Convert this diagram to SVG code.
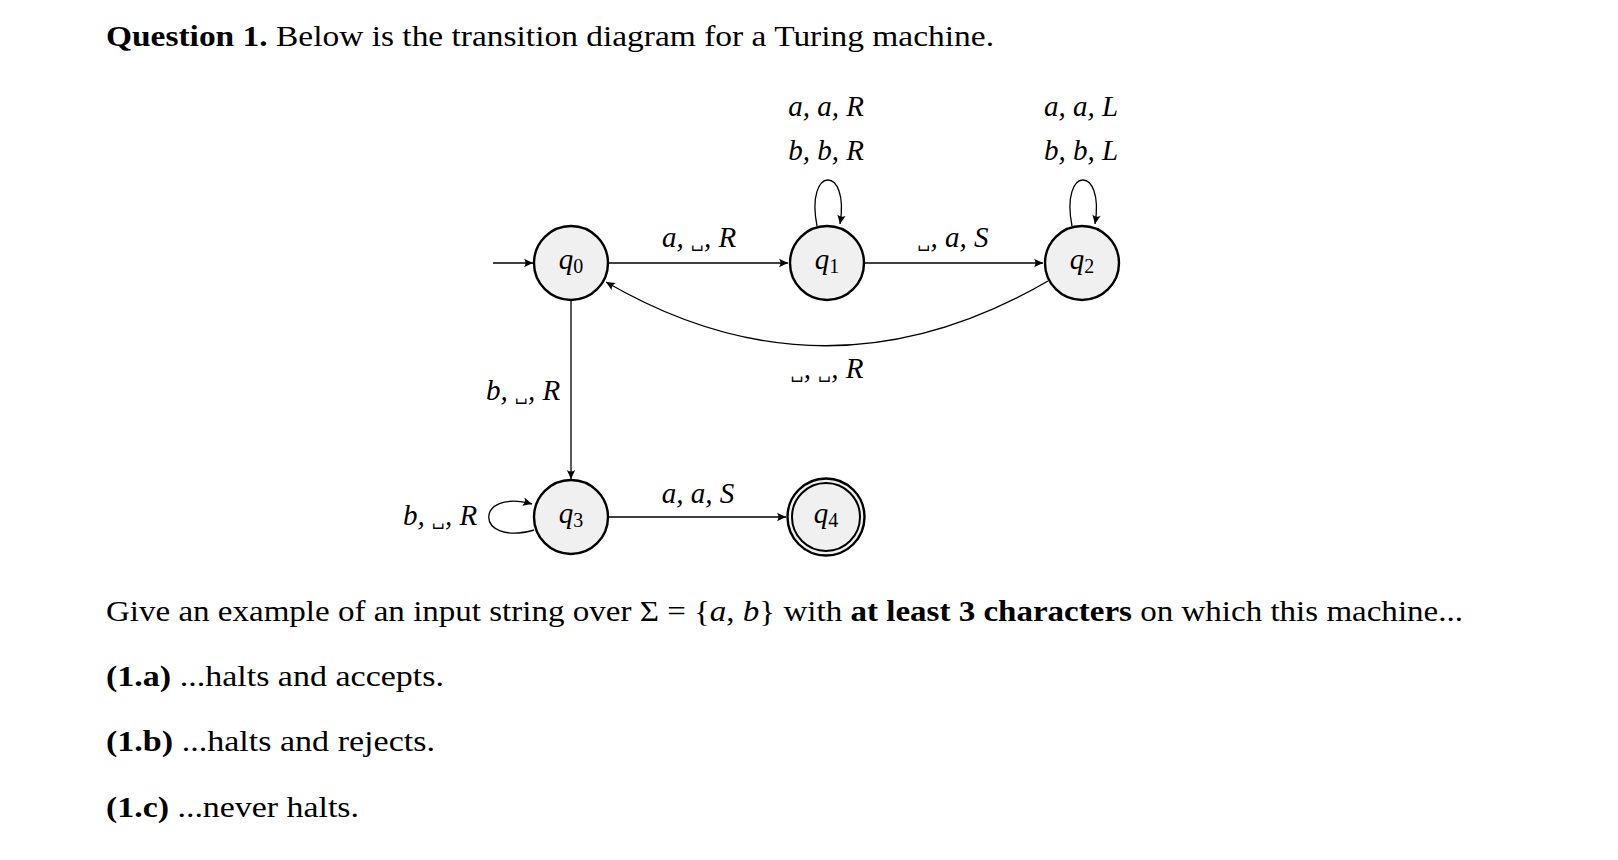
<svg xmlns="http://www.w3.org/2000/svg" width="1618" height="860" viewBox="0 0 1618 860">
<style>
  .txt { font-family: "Liberation Serif", "DejaVu Serif", serif; font-size: 29px; fill: #000; }
  .b { font-weight: bold; }
  .m { font-family: "Liberation Serif", "DejaVu Serif", serif; font-size: 29px; font-style: italic; fill: #000; text-anchor: middle; }
  .blank { font-family: "DejaVu Serif", serif; font-style: normal; font-size: 17px; }
  .node { fill: #f0f0f0; stroke: #000; stroke-width: 2.4; }
  .nl { font-family: "Liberation Serif", "DejaVu Serif", serif; font-size: 29px; font-style: italic; text-anchor: middle; fill: #000; }
  .sub { font-style: normal; font-size: 20px; }
  .edge { fill: none; stroke: #000; stroke-width: 1.3; marker-end: url(#arr); }
</style>
<defs>
  <marker id="arr" viewBox="-10 -5 12 10" refX="0" refY="0" markerWidth="12" markerHeight="10" markerUnits="userSpaceOnUse" orient="auto">
    <path d="M0,0 L-9,-4.2 Q-6,0 -9,4.2 Z" fill="#000"/>
  </marker>
</defs>
<rect width="1618" height="860" fill="#fff"/>

<text class="txt" x="106" y="46" textLength="888" lengthAdjust="spacingAndGlyphs"><tspan class="b">Question 1.</tspan> Below is the transition diagram for a Turing machine.</text>

<g id="connectors">
  <path class="edge" d="M493,263 L533,263"/>
  <path class="edge" d="M609,263 L788,263"/>
  <path class="edge" d="M865,263 L1043,263"/>
  <path class="edge" d="M571,300 L571,479"/>
  <path class="edge" d="M609,517 L786,517"/>
  <path class="edge" d="M1048,281 Q826,410 606,282"/>
  <path class="edge" d="M817,226 C805,165 850,165 840,224"/>
  <path class="edge" d="M1072,226 C1060,165 1105,165 1095,224"/>
  <path class="edge" d="M534,530 C474,547 474,488 532,504"/>
</g>

<g id="labels">
  <text class="m" x="826" y="116">a, a, R</text>
  <text class="m" x="826" y="160">b, b, R</text>
  <text class="m" x="1081" y="116">a, a, L</text>
  <text class="m" x="1081" y="160">b, b, L</text>
  <text class="m" x="699" y="247">a, <tspan class="blank">␣</tspan>, R</text>
  <text class="m" x="953" y="247"><tspan class="blank">␣</tspan>, a, S</text>
  <text class="m" x="827" y="378"><tspan class="blank">␣</tspan>, <tspan class="blank">␣</tspan>, R</text>
  <text class="m" x="523" y="400">b, <tspan class="blank">␣</tspan>, R</text>
  <text class="m" x="440" y="525">b, <tspan class="blank">␣</tspan>, R</text>
  <text class="m" x="698" y="503">a, a, S</text>
</g>

<g id="q0"><circle class="node" cx="571" cy="263" r="37"/><text class="nl" x="571" y="269">q<tspan class="sub" dy="4">0</tspan></text></g>
<g id="q1"><circle class="node" cx="827" cy="263" r="37"/><text class="nl" x="827" y="269">q<tspan class="sub" dy="4">1</tspan></text></g>
<g id="q2"><circle class="node" cx="1082" cy="263" r="37"/><text class="nl" x="1082" y="269">q<tspan class="sub" dy="4">2</tspan></text></g>
<g id="q3"><circle class="node" cx="571" cy="517" r="37"/><text class="nl" x="571" y="523">q<tspan class="sub" dy="4">3</tspan></text></g>
<g id="q4"><circle class="node" cx="826" cy="517" r="38.5"/><circle cx="826" cy="517" r="34" fill="none" stroke="#000" stroke-width="2"/><text class="nl" x="826" y="523">q<tspan class="sub" dy="4">4</tspan></text></g>

<text class="txt" x="106" y="621" textLength="1357" lengthAdjust="spacingAndGlyphs">Give an example of an input string over Σ = {<tspan font-style="italic">a</tspan>, <tspan font-style="italic">b</tspan>} with <tspan class="b">at least 3 characters</tspan> on which this machine...</text>
<text class="txt" x="106" y="686" textLength="338" lengthAdjust="spacingAndGlyphs"><tspan class="b">(1.a)</tspan> ...halts and accepts.</text>
<text class="txt" x="106" y="751" textLength="329" lengthAdjust="spacingAndGlyphs"><tspan class="b">(1.b)</tspan> ...halts and rejects.</text>
<text class="txt" x="106" y="817" textLength="253" lengthAdjust="spacingAndGlyphs"><tspan class="b">(1.c)</tspan> ...never halts.</text>
</svg>
